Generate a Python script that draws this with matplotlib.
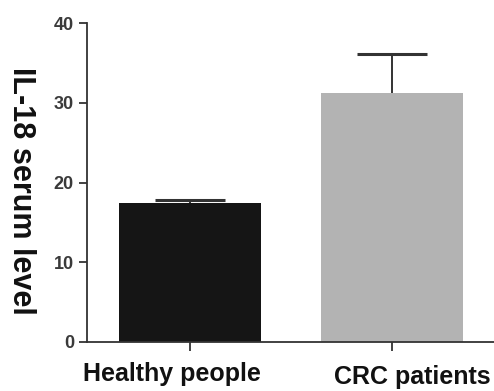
import matplotlib
matplotlib.use("Agg")
import matplotlib.pyplot as plt
import matplotlib.transforms as mtransforms
import numpy as np

categories = ["Healthy people", "CRC patients"]
means = [17.5, 31.2]
errors = [0.3, 4.9]
bar_colors = ["#151515", "#b3b3b3"]
yticks = [0, 10, 20, 30, 40]
ylabel = "IL-18 serum level"

plt.rcParams['font.family'] = ['Liberation Sans', 'DejaVu Sans']

fig = plt.figure(figsize=(4.94, 3.91), dpi=100)
W, H = 494, 391
ax = fig.add_axes([86.5 / W, (H - 342) / H, (494 - 86.5) / W, (342 - 23.3) / H])

x = np.arange(len(categories))
ax.bar(x, means, width=0.7, color=bar_colors, edgecolor='none', zorder=2)
eb = ax.errorbar(x, means, yerr=[np.zeros(len(errors)), errors], fmt='none',
                 ecolor='#333333', elinewidth=1.4, capsize=25, capthick=2.2, zorder=3)
caplines = eb[1]
if len(caplines) == 2:
    caplines[0].set_visible(False)

ax.set_xlim(-0.512, 1.505)
ax.set_ylim(0, 40)
ax.set_yticks(yticks)
ax.set_yticklabels([str(v) for v in yticks], fontsize=13, fontweight='bold', color='#3a3a3a')
ax.set_xticks(x)
ax.set_xticklabels(categories, fontsize=18, fontweight='bold', color='#111111')

for s in ['top', 'right']:
    ax.spines[s].set_visible(False)
for s in ['left', 'bottom']:
    ax.spines[s].set_linewidth(1.3)
    ax.spines[s].set_color('#333333')

ax.tick_params(axis='y', direction='out', length=5.5, width=1.3, color='#333333', pad=3.5)
ax.tick_params(axis='x', direction='out', length=6.5, width=1.3, color='#333333', pad=8)

offsets = [(-13, 0), (14.5, -2.2)]
for lab, (dx, dy) in zip(ax.get_xticklabels(), offsets):
    lab.set_transform(lab.get_transform() + mtransforms.ScaledTranslation(dx / 72, dy / 72, fig.dpi_scale_trans))

ax.set_ylabel(ylabel, fontsize=22, fontweight='bold', rotation=270, color='#111111')
ax.yaxis.label.set_rotation_mode('default')
ax.yaxis.label.set_ha('left')
ax.yaxis.label.set_va('center')
ax.yaxis.set_label_coords(-81 / 407.5, 0.474)

fig.savefig("out.png", dpi=100)
